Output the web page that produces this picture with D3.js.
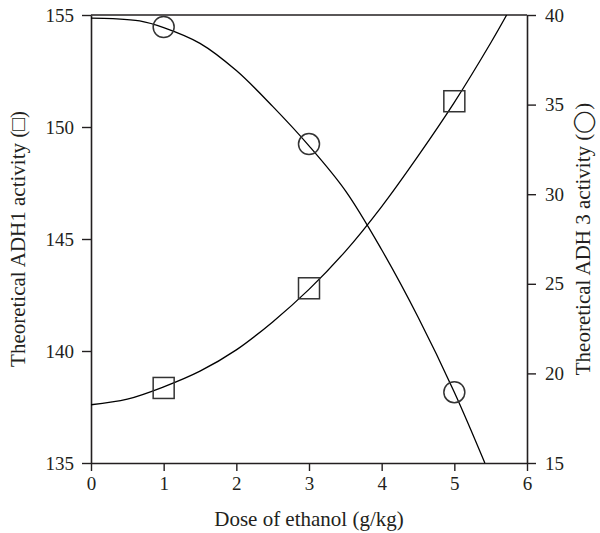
<!DOCTYPE html>
<html>
<head>
<meta charset="utf-8">
<script src="https://cdn.jsdelivr.net/npm/d3@7"></script>
<style>
  html, body { margin: 0; padding: 0; background: #fff; }
  svg text { font-family: "Liberation Serif", "Times New Roman", serif; fill: #231f20; }
</style>
</head>
<body>
<svg id="chart" width="600" height="533"></svg>
<script>
// ---- data ----
const doseTicks = [0, 1, 2, 3, 4, 5, 6];
const adh1Ticks = [135, 140, 145, 150, 155];
const adh3Ticks = [15, 20, 25, 30, 35, 40];

const doses = [1, 3, 5];
const adh1Values = [138.35, 142.8, 151.15];   // squares (left axis)
const adh3Values = [39.33, 32.8, 18.95];      // circles (right axis)

// fitted curves
const adh1CurveDose = [0, 0.5, 1, 1.5, 2, 2.5, 3, 3.5, 4, 4.5, 5, 5.5, 5.72];
const adh1CurveVal  = [137.6, 137.85, 138.4, 139.1, 140.05, 141.3, 142.75, 144.45, 146.45, 148.7, 151.1, 153.75, 155];
const adh3CurveDose = [0, 0.3, 0.67, 1, 1.5, 2, 2.5, 3, 3.5, 4, 4.5, 5, 5.42];
const adh3CurveVal  = [39.83, 39.8, 39.67, 39.3, 38.42, 36.9, 34.9, 32.7, 30.2, 26.9, 23.15, 18.95, 15];

const xTitle = "Dose of ethanol (g/kg)";
const yLeftTitle = "Theoretical ADH1  activity (\u25A1)";
const yRightTitle = "Theoretical ADH 3 activity (\u25EF)";

// ---- layout ----
const svg = d3.select("#chart");
const L = 91, R = 527, T = 15, B = 463;
const x = d3.scaleLinear().domain([0, 6]).range([L, R]);
const yL = d3.scaleLinear().domain([135, 155]).range([B, T]);
const yR = d3.scaleLinear().domain([15, 40]).range([B, T]);
const ink = "#231f20";

svg.append("defs").append("clipPath").attr("id", "plotclip")
  .append("rect").attr("x", L).attr("y", T).attr("width", R - L).attr("height", B - T);

// axes
const tickFont = 19, titleFont = 21;
function styleAxis(g) {
  g.select(".domain").attr("stroke", ink).attr("stroke-width", 1.6);
  g.selectAll(".tick line").attr("stroke", ink).attr("stroke-width", 1.4);
  g.selectAll(".tick text").style("font-size", tickFont + "px").attr("fill", ink);
}
const gx = svg.append("g").attr("transform", `translate(0,${B})`)
  .call(d3.axisBottom(x).tickValues(doseTicks).tickFormat(d3.format("d")).tickSize(8).tickSizeOuter(0).tickPadding(6));
styleAxis(gx);
const gl = svg.append("g").attr("transform", `translate(${L},0)`)
  .call(d3.axisLeft(yL).tickValues(adh1Ticks).tickFormat(d3.format("d")).tickSize(9).tickSizeOuter(0).tickPadding(8));
styleAxis(gl);
const gr = svg.append("g").attr("transform", `translate(${R},0)`)
  .call(d3.axisRight(yR).tickValues(adh3Ticks).tickFormat(d3.format("d")).tickSize(9).tickSizeOuter(0).tickPadding(9));
styleAxis(gr);

// top border
svg.append("line").attr("x1", L).attr("x2", R).attr("y1", T).attr("y2", T)
  .attr("stroke", ink).attr("stroke-width", 1.6);

// curves
const line1 = d3.line().x((d, i) => x(adh1CurveDose[i])).y(d => yL(d)).curve(d3.curveCatmullRom.alpha(0.5));
const line3 = d3.line().x((d, i) => x(adh3CurveDose[i])).y(d => yR(d)).curve(d3.curveCatmullRom.alpha(0.5));
const curves = svg.append("g").attr("clip-path", "url(#plotclip)");
curves.append("path").attr("d", line1(adh1CurveVal)).attr("fill", "none").attr("stroke", "#000").attr("stroke-width", 1.3);
curves.append("path").attr("d", line3(adh3CurveVal)).attr("fill", "none").attr("stroke", "#000").attr("stroke-width", 1.3);

// markers
const sq = 21;
svg.append("g").selectAll("rect").data(adh1Values).join("rect")
  .attr("x", (d, i) => x(doses[i]) - sq / 2)
  .attr("y", d => yL(d) - sq / 2)
  .attr("width", sq).attr("height", sq)
  .attr("fill", "none").attr("stroke", "#333").attr("stroke-width", 1.5);
svg.append("g").selectAll("circle").data(adh3Values).join("circle")
  .attr("cx", (d, i) => x(doses[i]))
  .attr("cy", d => yR(d))
  .attr("r", 10.5)
  .attr("fill", "none").attr("stroke", "#333").attr("stroke-width", 1.5);

// titles
svg.append("text").attr("x", (L + R) / 2).attr("y", 526).attr("text-anchor", "middle")
  .style("font-size", titleFont + "px").text(xTitle);
svg.append("text").attr("transform", `translate(25,${(T + B) / 2}) rotate(-90)`).attr("text-anchor", "middle")
  .style("font-size", titleFont + "px").text(yLeftTitle);
svg.append("text").attr("transform", `translate(590,${(T + B) / 2}) rotate(-90)`).attr("text-anchor", "middle")
  .style("font-size", titleFont + "px").text(yRightTitle);
</script>
</body>
</html>
